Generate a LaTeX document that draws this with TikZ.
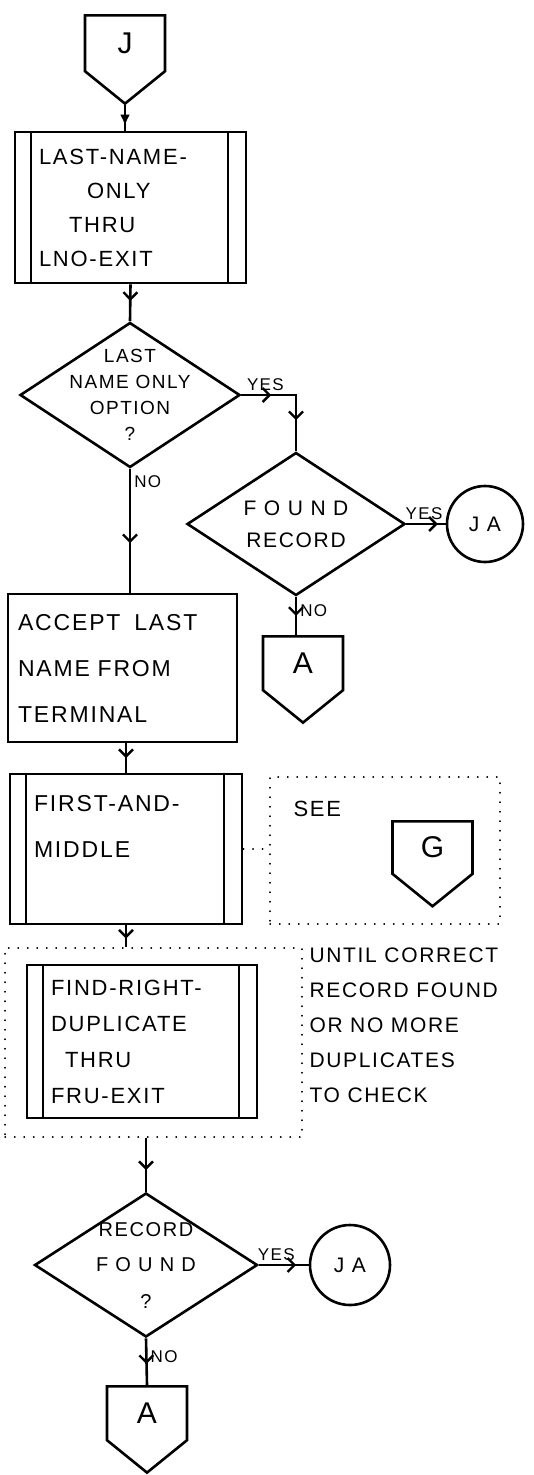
\documentclass[tikz,border=0pt]{standalone}
\usepackage{fontspec}
\setmainfont{Liberation Sans}[LetterSpace=8]
\usepackage{tikz}
\usetikzlibrary{arrows.meta,positioning,shapes.geometric,shapes.symbols,decorations.markings}
\tikzset{
  every node/.style={font=\fontsize{22}{34}\selectfont},
  flow/.style={line width=2.6pt,draw=black},
  arrowat/.style={postaction={decorate,decoration={markings,mark=at position #1 with {\arrow{Straight Barb[length=7pt,width=14pt,line width=2.4pt]}}}}},
  arrowfill/.style={postaction={decorate,decoration={markings,mark=at position #1 with {\arrow{Latex[length=11pt,width=10pt]}}}}},
  proc/.style={draw,line width=2.6pt,rectangle,align=left,inner xsep=10pt},
  predef/.style={proc,inner xsep=24pt,path picture={
      \draw[line width=2.6pt] ([xshift=16pt]path picture bounding box.north west) -- ([xshift=16pt]path picture bounding box.south west);
      \draw[line width=2.6pt] ([xshift=-18pt]path picture bounding box.north east) -- ([xshift=-18pt]path picture bounding box.south east);}},
  decision/.style={draw,line width=2.6pt,diamond,inner sep=0pt},
  offpage/.style={draw,line width=2.6pt,signal,signal to=south,signal pointer angle=102,
      minimum width=80pt,minimum height=62pt,inner sep=0pt,anchor=north,font=\fontsize{30}{30}\selectfont},
  onpage/.style={draw,line width=2.6pt,circle,inner sep=0pt,font=\fontsize{21}{21}\selectfont},
  annot/.style={draw,line width=1.4pt,line cap=round,dash pattern=on 0.5pt off 9pt},
  yesno/.style={font=\fontsize{17}{17}\selectfont,inner sep=3pt}
}
\begin{document}
\begin{tikzpicture}[x=1pt,y=-1pt]
  \useasboundingbox (0,0) rectangle (534,1475);

  \node[offpage] (j) at (125,14) {J};
  \node[predef,text width=183pt,minimum height=151pt] (lastonly) at (130.5,207.5)
    {LAST-NAME-\\\hspace*{48pt}ONLY\\\hspace*{30pt}THRU\\LNO-EXIT};
  \node[decision,minimum width=220pt,minimum height=145pt,
    label={[align=center,font=\fontsize{19}{26}\selectfont]center:LAST\\NAME ONLY\\OPTION\\?}] (lnopt) at (130,395) {};

  \node[decision,minimum width=218pt,minimum height=143pt,
    label={[align=center,font=\fontsize{21}{32}\selectfont]center:F O U N D\\RECORD}] (found) at (296,524) {};
  \node[onpage,minimum size=76pt] (ja) at (485,524) {J A};
  \node[offpage] (a) at (303,635) {A};

  \node[proc,text width=209pt,minimum height=148pt,font=\fontsize{23}{46}\selectfont] (accept) at (122.5,668)
    {ACCEPT\hspace{0.6em}LAST\\NAME FROM\\TERMINAL};
  \node[predef,text width=184pt,minimum height=150pt,font=\fontsize{23}{46}\selectfont] (firstmid) at (126,849)
    {FIRST-AND-\\MIDDLE\\\mbox{}};

  % reference to G
  \node[annot,minimum width=230pt,minimum height=147pt] (see) at (385,850.5) {};
  \node[anchor=north west] (seetxt) at (290,798) {SEE};
  \node[offpage] (g) at (432.5,820) {G};

  % loop on duplicates
  \node[annot,minimum width=297pt,minimum height=189pt] (loop) at (153.5,1042.5) {};
  \node[predef,text width=182pt,minimum height=153pt,font=\fontsize{22}{36}\selectfont] (findright) at (142,1041.5)
    {FIND-RIGHT-\\DUPLICATE\\\hspace*{14pt}THRU\\FRU-EXIT};
  \node[anchor=north west,align=left,font=\fontsize{21}{35}\selectfont] (until) at (306,944)
    {UNTIL CORRECT\\RECORD FOUND\\OR NO MORE\\DUPLICATES\\TO CHECK};

  \node[decision,minimum width=223pt,minimum height=144pt,
    label={[align=center,font=\fontsize{20}{36}\selectfont]center:RECORD\\F O U N D\\?}] (recfound) at (146,1265) {};
  \node[onpage,minimum size=80pt] (ja2) at (350,1265) {J A};
  \node[offpage] (a2) at (147,1385) {A};

  \draw[flow,arrowfill=0.8] (j.south) -- (j.south |- lastonly.north);
  \draw[flow,arrowat=0.45] (lastonly.south) -- (lnopt.north);
  \draw[flow,arrowat=0.27,arrowat=0.72] (lnopt.east) -| node[yesno,pos=0.22,above] {YES} (found.north);
  \draw[flow,arrowat=0.8] (found.east) -- node[yesno,pos=0.45,above] {YES} (ja);
  \draw[flow,arrowat=0.5] (found.south) -- node[yesno,pos=0.35,right] {NO} (found.south |- a.north);
  \draw[flow,arrowat=0.6] (lnopt.south) -- node[yesno,pos=0.1,right] {NO} (lnopt.south |- accept.north);
  \draw[flow,arrowat=0.5] (firstmid.north |- accept.south) -- (firstmid.north);
  \draw[flow,arrowat=0.6] (firstmid.south) -- (firstmid.south |- loop.north);
  \draw[annot] (firstmid.east) -- (see.west |- firstmid.east);
  \draw[flow,arrowat=0.6] (recfound.north |- loop.south) -- (recfound.north);
  \draw[flow,arrowat=0.75] (recfound.east) -- node[yesno,pos=0.35,above] {YES} (ja2);
  \draw[flow,arrowat=0.55] (recfound.south) -- node[yesno,pos=0.4,right] {NO} (a2.north);
\end{tikzpicture}
\end{document}
